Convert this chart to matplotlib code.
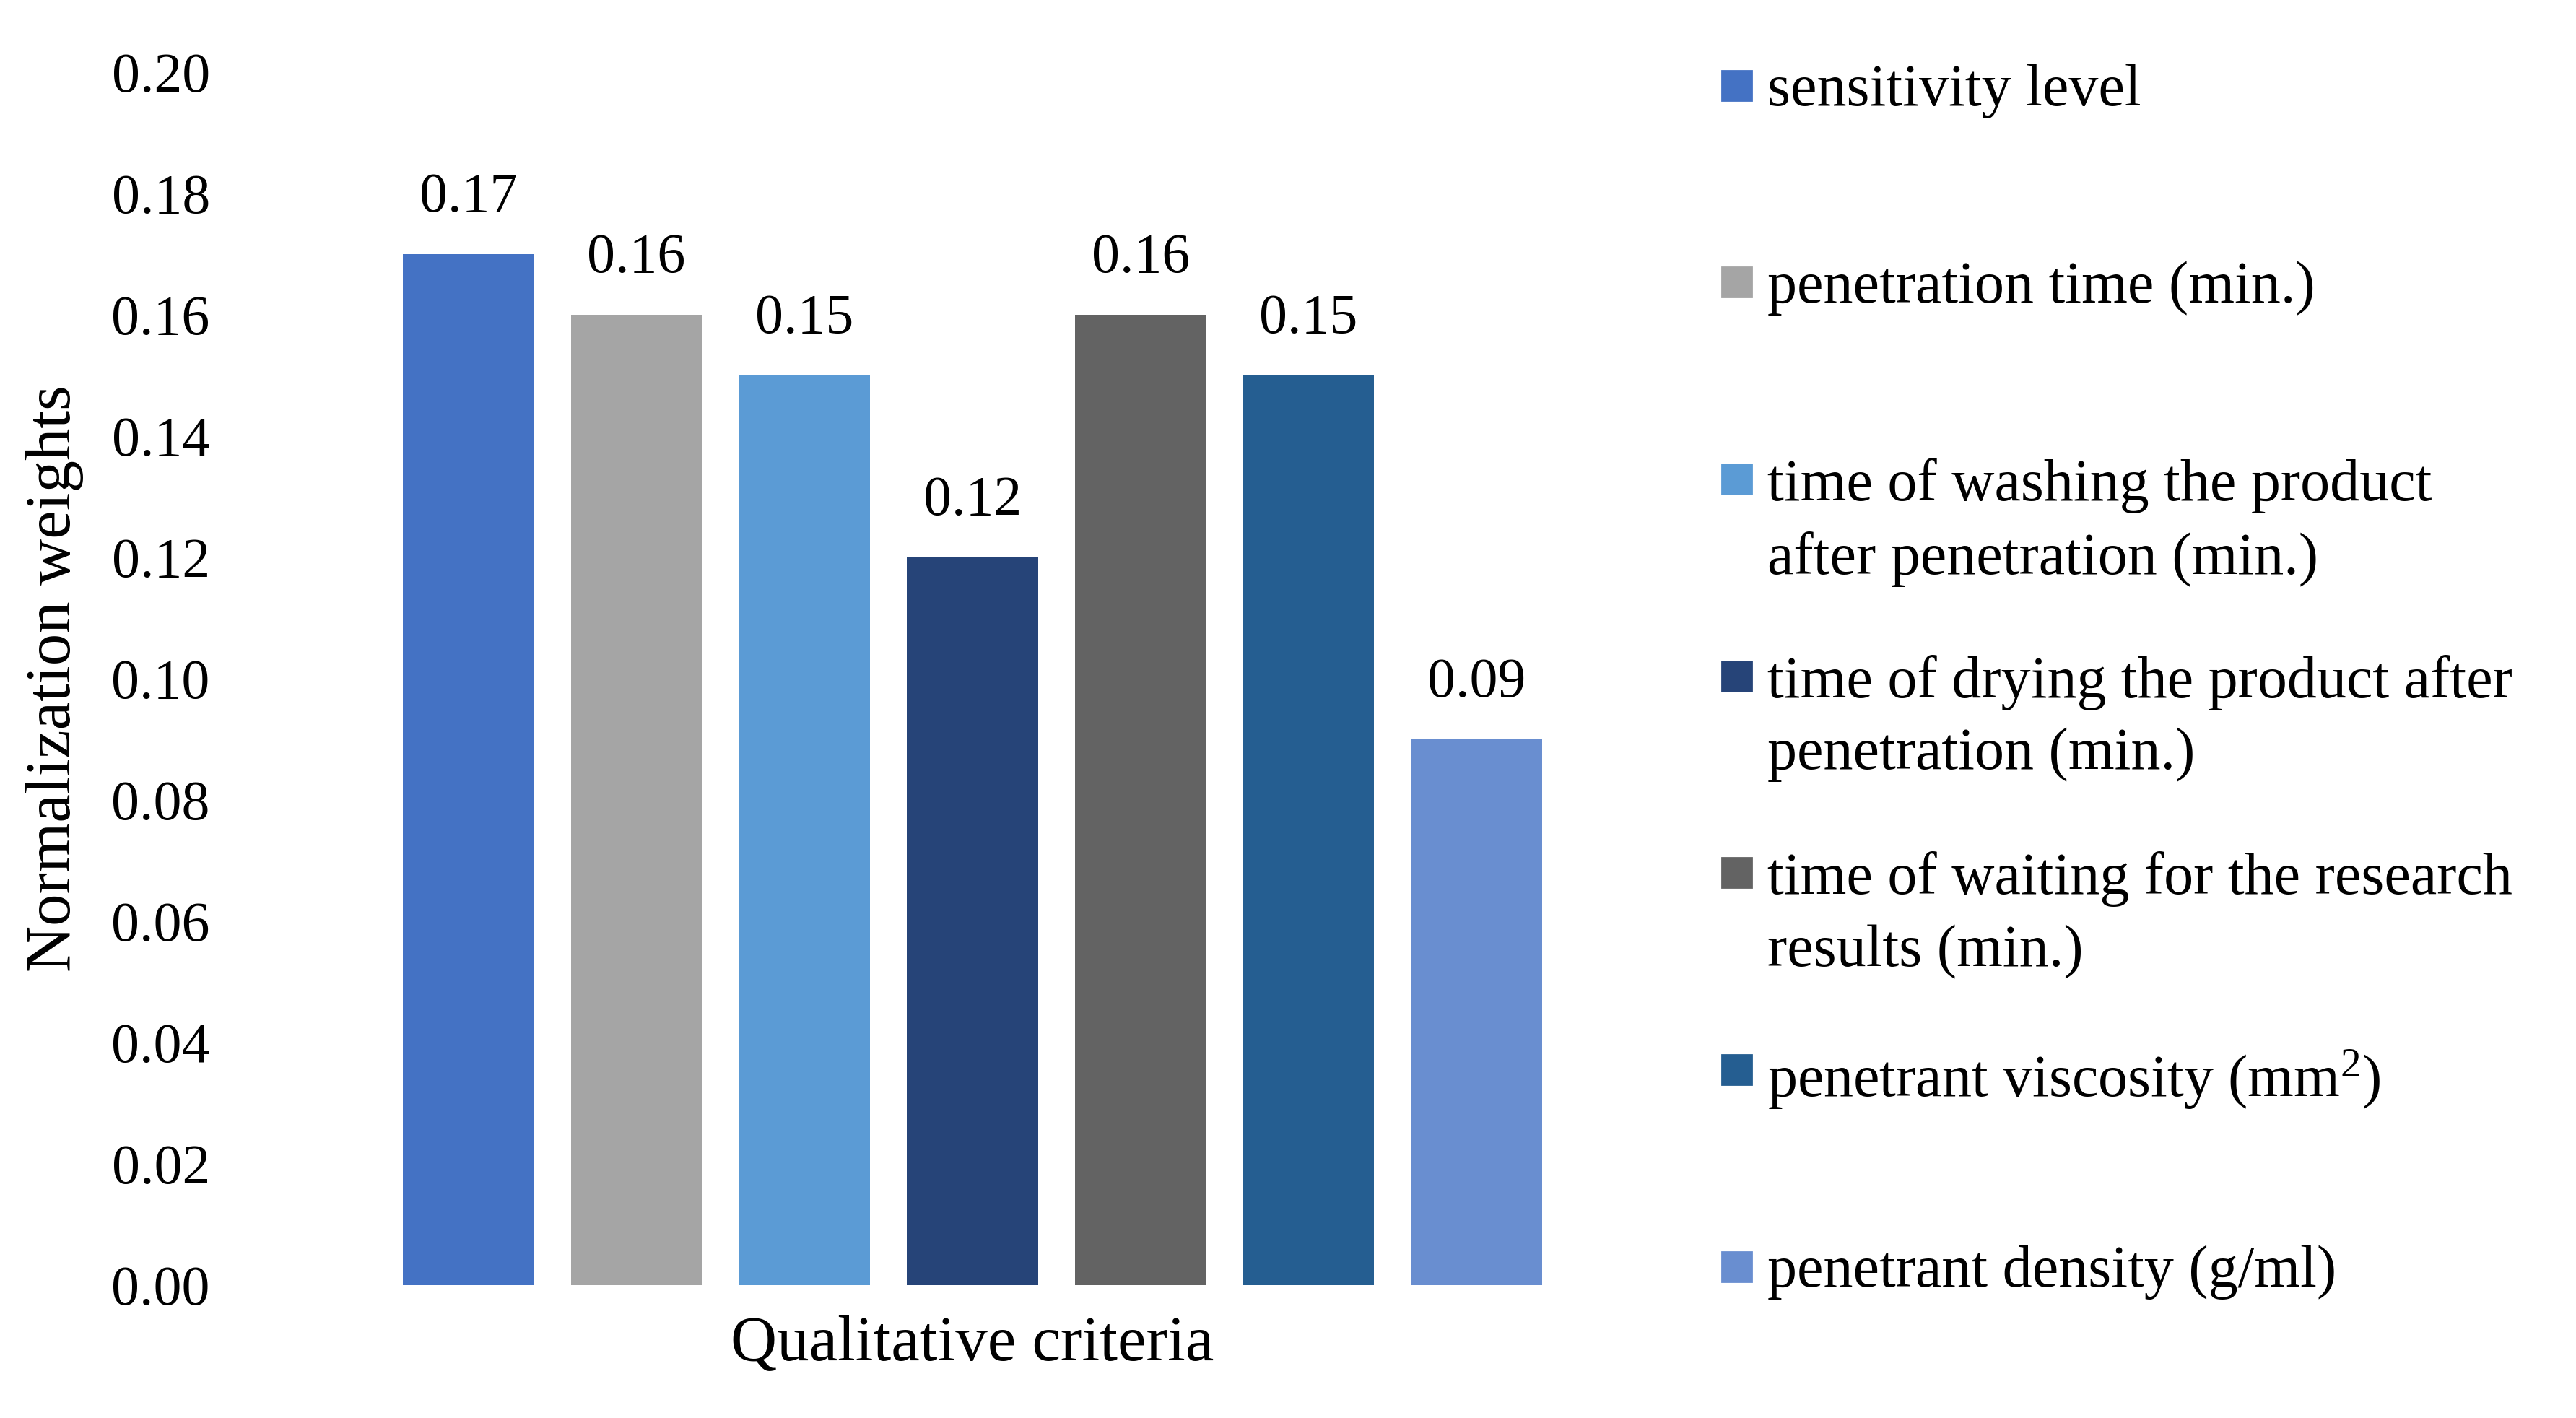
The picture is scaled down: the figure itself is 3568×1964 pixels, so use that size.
import matplotlib
matplotlib.use("Agg")
import matplotlib.pyplot as plt
from matplotlib.patches import Rectangle

criteria = [
    "sensitivity level",
    "penetration time (min.)",
    "time of washing the product\nafter penetration (min.)",
    "time of drying the product after\npenetration (min.)",
    "time of waiting for the research\nresults (min.)",
    "penetrant viscosity (mm$^{2}$)",
    "penetrant density (g/ml)",
]
weights = [0.17, 0.16, 0.15, 0.12, 0.16, 0.15, 0.09]
value_labels = ["0.17", "0.16", "0.15", "0.12", "0.16", "0.15", "0.09"]
colors = ["#4472C4", "#A5A5A5", "#5B9BD5", "#264478", "#636363", "#255E91", "#698ED0"]
y_ticks = [0.00, 0.02, 0.04, 0.06, 0.08, 0.10, 0.12, 0.14, 0.16, 0.18, 0.20]
x_title = "Qualitative criteria"
y_title = "Normalization weights"

plt.rcParams['font.family'] = ['Liberation Serif', 'DejaVu Serif']
plt.rcParams['mathtext.fontset'] = 'custom'
plt.rcParams['mathtext.rm'] = 'Liberation Serif'
plt.rcParams['mathtext.it'] = 'Liberation Serif:italic'
FS = 28
FS_TITLE = 32
FS_LEG = 29.5

W, H = 1568.0, 863.0
fig = plt.figure(figsize=(17.84, 9.82), dpi=200)
ax = fig.add_axes([234 / W, 1 - 782 / H, (950 - 234) / W, (782 - 44) / H])

x = list(range(len(weights)))
bars = ax.bar(x, weights, width=0.78, color=colors)
ax.bar_label(bars, labels=value_labels, padding=15, fontsize=FS)

ax.set_xlim(-0.5, len(weights) - 0.5)
ax.set_ylim(0, 0.20)
ax.set_yticks(y_ticks)
ax.set_yticklabels([f"{v:.2f}" for v in y_ticks], fontsize=FS)
ax.set_xticks([])
ax.tick_params(axis='y', length=0, pad=87)
for s in ax.spines.values():
    s.set_visible(False)

ax.set_xlabel(x_title, fontsize=FS_TITLE)
ax.xaxis.set_label_coords(0.5, (782 - 818) / (782 - 44))
ax.xaxis.label.set_va('center')
ax.set_ylabel(y_title, fontsize=FS_TITLE)
ax.yaxis.set_label_coords((33 - 234) / (950 - 234), 0.5)
ax.yaxis.label.set_va('center')

# legend drawn as evenly spaced entries (Excel style)
for i, (lab, c) in enumerate(zip(criteria, colors)):
    yc = 52 + 119.8 * i
    fig.patches.append(Rectangle((1048 / W, 1 - (yc + 9) / H), 18 / W, 18 / H,
                                 transform=fig.transFigure, color=c, figure=fig))
    fig.text(1076 / W, 1 - (yc - 13) / H, lab, fontsize=FS_LEG, va='top', ha='left',
             linespacing=1.42)

fig.savefig("out.png", dpi=200)
